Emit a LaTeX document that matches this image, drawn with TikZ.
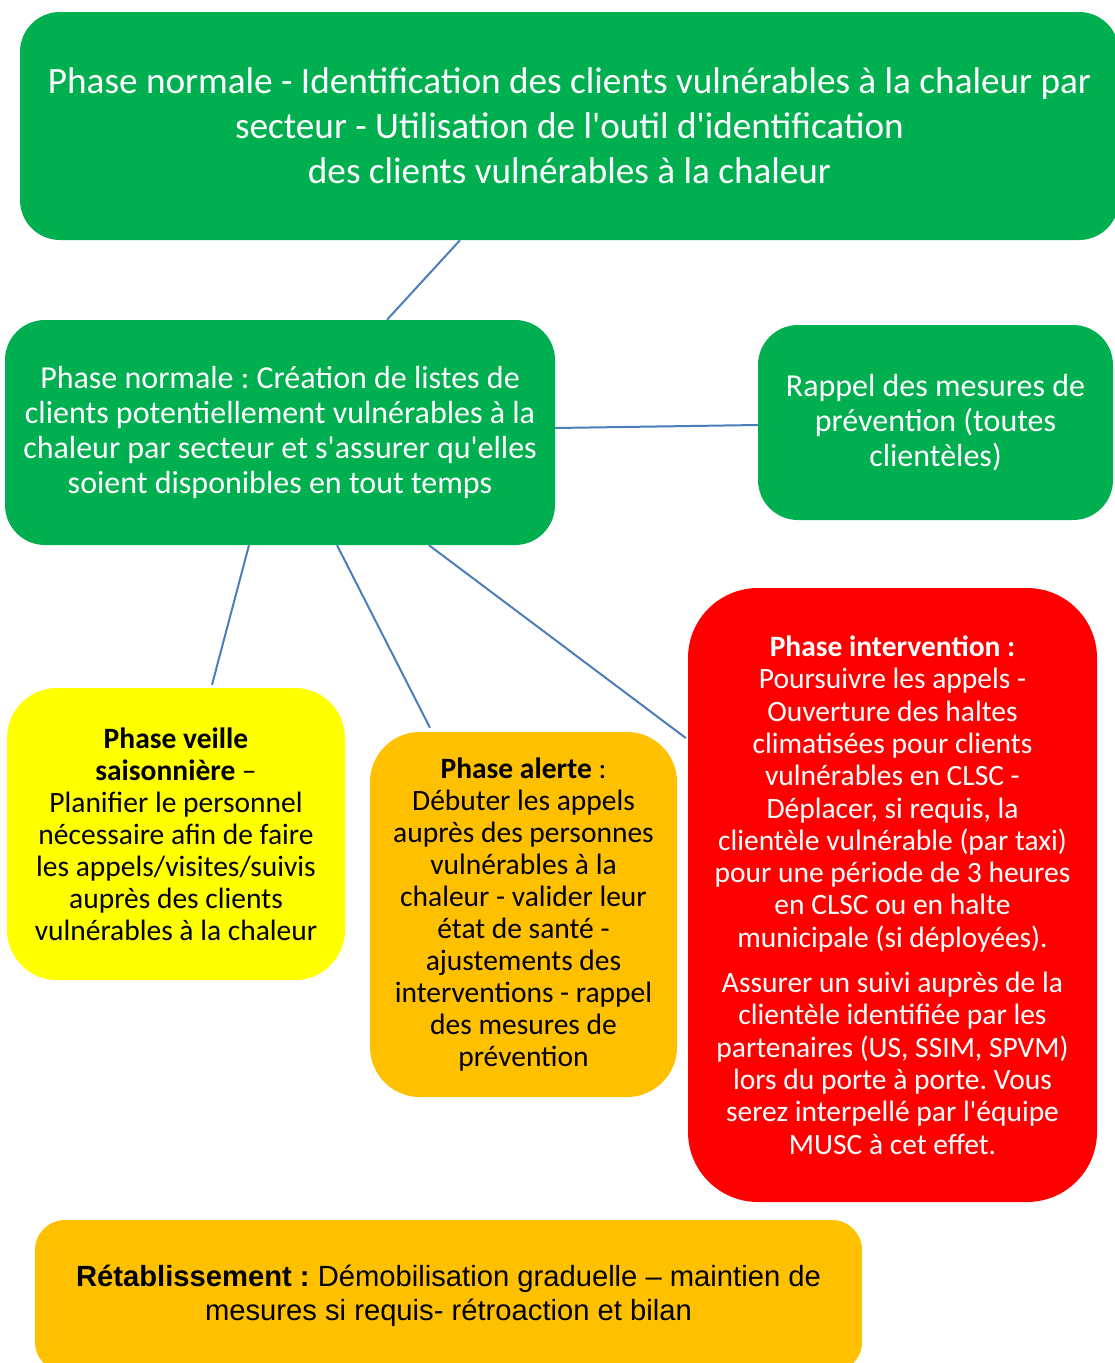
\documentclass[tikz,border=0pt]{standalone}
\usepackage{fontspec}
\setmainfont{Carlito}[Ligatures=TeXOff]
\newfontfamily\arialfont{Liberation Sans}
\frenchspacing
\definecolor{vert}{HTML}{00B050}
\definecolor{jaune}{HTML}{FFFF00}
\definecolor{orange}{HTML}{FFC000}
\definecolor{rouge}{HTML}{FF0000}
\definecolor{lien}{HTML}{4A7EBB}

\begin{document}
\begin{tikzpicture}[x=1pt,y=-1pt,
		phase node/.style={rounded corners=40pt,align=center,inner sep=0pt},
		green node/.style={phase node,fill=vert,text=white},
		link/.style={draw=lien,line width=2pt}]
		% cadre
		\useasboundingbox (0,0) rectangle (1115,1363);
		
		\node[green node, minimum width=1099pt, minimum height=228pt,
			font=\fontsize{37.2}{45}\selectfont] (normale) at (569.5,126)
			{Phase normale - Identification des clients vulnérables à la chaleur par\\
			secteur - Utilisation de l'outil d'identification\\
			des clients vulnérables à la chaleur};
		\node[green node, minimum width=550pt, minimum height=225pt,
			font=\fontsize{32}{35}\selectfont] (listes) at (280,432.5)
			{Phase normale : Création de listes de\\
			clients potentiellement vulnérables à la\\
			chaleur par secteur et s'assurer qu'elles\\
			soient disponibles en tout temps};
		\node[green node, minimum width=355pt, minimum height=195pt,
			font=\fontsize{32}{35}\selectfont] (rappel) at (935.5,422.5)
			{Rappel des mesures de\\
			prévention (toutes\\
			clientèles)};
		\node[phase node, fill=jaune, rounded corners=50pt, minimum width=338pt, minimum height=292pt,
			font=\fontsize{29.5}{32}\selectfont] (veille) at (176,834)
			{\textbf{Phase veille}\\
			\textbf{saisonnière} –\\
			Planifier le personnel\\
			nécessaire afin de faire\\
			les appels/visites/suivis\\
			auprès des clients\\
			vulnérables à la chaleur};
		\node[phase node, fill=orange, rounded corners=50pt, minimum width=307pt, minimum height=365pt,
			font=\fontsize{29.5}{32}\selectfont] (alerte) at (523.5,914.5)
			{\textbf{Phase alerte} :\\
			Débuter les appels\\
			auprès des personnes\\
			vulnérables à la\\
			chaleur - valider leur\\
			état de santé -\\
			ajustements des\\
			interventions - rappel\\
			des mesures de\\
			prévention};
		\node[phase node, fill=rouge, text=white, rounded corners=70pt, minimum width=409pt, minimum height=614pt,
			font=\fontsize{29.5}{32.3}\selectfont] (intervention) at (892.5,895)
			{\textbf{Phase intervention :}\\
			Poursuivre les appels -\\
			Ouverture des haltes\\
			climatisées pour clients\\
			vulnérables en CLSC -\\
			Déplacer, si requis, la\\
			clientèle vulnérable (par taxi)\\
			pour une période de 3 heures\\
			en CLSC ou en halte\\
			municipale (si déployées).\\[13pt]
			Assurer un suivi auprès de la\\
			clientèle identifiée par les\\
			partenaires (US, SSIM, SPVM)\\
			lors du porte à porte. Vous\\
			serez interpellé par l'équipe\\
			MUSC à cet effet.};
		\node[phase node, fill=orange, rounded corners=30pt, minimum width=827pt, minimum height=152pt,
			font=\arialfont\fontsize{29.2}{34}\selectfont] (retablissement) at (448.5,1296)
			{\textbf{Rétablissement :} Démobilisation graduelle – maintien de\\
			mesures si requis- rétroaction et bilan};
		
		\path[link]
		([xshift=-109.5pt]normale.south) edge ([xshift=107pt]listes.north)
		([yshift=4.5pt]listes.east) edge ([yshift=-2.5pt]rappel.west)
		([xshift=-31pt]listes.south) edge ([xshift=36pt,yshift=3pt]veille.north)
		([xshift=57pt]listes.south) edge ([xshift=-93.5pt,yshift=4pt]alerte.north)
		([xshift=149pt]listes.south) edge ([xshift=-2pt,yshift=157pt]intervention.west);
\end{tikzpicture}
\end{document}
